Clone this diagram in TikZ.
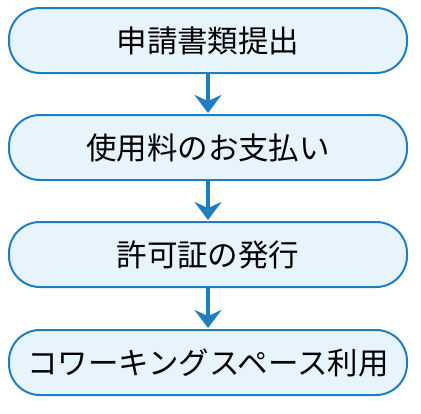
\documentclass[tikz,border=0pt]{standalone}
\usepackage{fontspec}
\setmainfont{Noto Sans CJK JP}
\usetikzlibrary{arrows.meta}
\definecolor{bord}{HTML}{1F7EC2}
\definecolor{fillc}{HTML}{E8F4FC}
\tikzset{
  stepbox/.style={draw=bord, line width=2pt, fill=fillc, rounded corners=31pt,
    minimum width=398pt, minimum height=65pt, inner sep=0pt,
    font=\fontsize{30.5}{34}\selectfont},
  flowarrow/.style={draw=bord, line width=4pt, -{Stealth[length=18pt,width=27pt,inset=6pt]}, shorten >=1pt}
}
\begin{document}
\begin{tikzpicture}[x=1pt,y=-1pt]
\useasboundingbox (0,0) rectangle (421,413);
\node[stepbox] (a) at (208,40.5) {申請書類提出};
\node[stepbox] (b) at (208,147.5) {使用料のお支払い};
\node[stepbox] (c) at (208,254.5) {許可証の発行};
\node[stepbox] (d) at (208,362.5) {コワーキングスペース利用};
\draw[flowarrow] (a) -- (b);
\draw[flowarrow] (b) -- (c);
\draw[flowarrow] (c) -- (d);
\end{tikzpicture}
\end{document}
